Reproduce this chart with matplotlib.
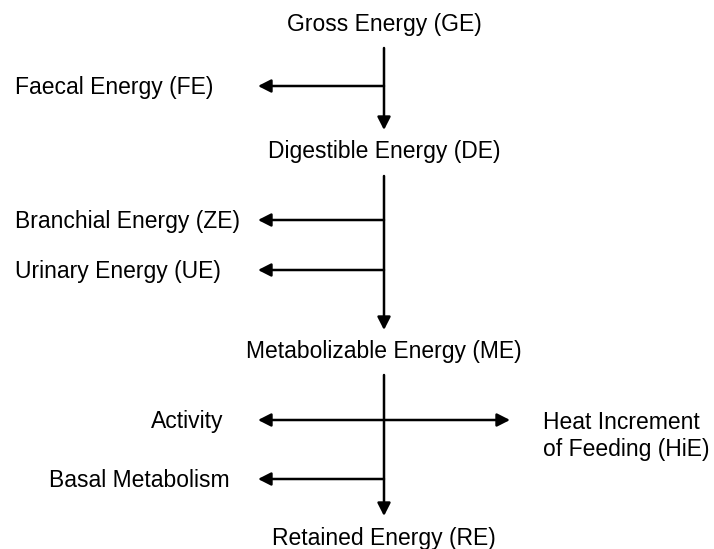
import matplotlib.pyplot as plt

plt.rcParams['font.family'] = ['Liberation Sans', 'DejaVu Sans']

# main flow: energy levels down the central axis (label, baseline y in px)
levels = ["Gross Energy (GE)", "Digestible Energy (DE)",
          "Metabolizable Energy (ME)", "Retained Energy (RE)"]
level_y = [31, 158, 358, 545]

# vertical arrows between levels (start y, end y)
stem_start = [48, 176, 375]
stem_end = [130, 330, 516]

# losses branching off to the left (label, y of arrow)
left_losses = ["Faecal Energy (FE)", "Branchial Energy (ZE)", "Urinary Energy (UE)",
               "Activity", "Basal Metabolism"]
left_y = [86, 220, 270, 420, 479]

# loss branching off to the right
right_losses = ["Heat Increment\nof Feeding (HiE)"]
right_y = [420]

# text anchors for the left labels (x, alignment)
left_tx = [15, 15, 15, 223, 230]
left_align = ["left", "left", "left", "right", "right"]

axis_x = 384
left_tip = 258
right_tip = 510

fig, ax = plt.subplots(figsize=(7.14, 5.49), dpi=100)
fig.subplots_adjust(left=0, right=1, top=1, bottom=0)
ax.set_xlim(0, 714)
ax.set_ylim(549, 0)
ax.axis('off')

fs = 16.5
arrow = dict(arrowstyle='-|>,head_length=0.55,head_width=0.28', color='black',
             lw=1.8, shrinkA=0, shrinkB=0, mutation_scale=14)

for label, y in zip(levels, level_y):
    ax.text(axis_x, y, label, ha='center', va='baseline', fontsize=fs)

for y0, y1 in zip(stem_start, stem_end):
    ax.annotate('', xy=(axis_x, y1), xytext=(axis_x, y0), arrowprops=arrow)

for label, y, tx, al in zip(left_losses, left_y, left_tx, left_align):
    ax.annotate('', xy=(left_tip, y), xytext=(axis_x, y), arrowprops=arrow)
    ax.text(tx, y + 8, label, ha=al, va='baseline', fontsize=fs)

for label, y in zip(right_losses, right_y):
    ax.annotate('', xy=(right_tip, y), xytext=(axis_x, y), arrowprops=arrow)
    ax.text(543, y - 9, label, ha='left', va='top', fontsize=fs, linespacing=1.2)

fig.savefig('out.png', dpi=100)
